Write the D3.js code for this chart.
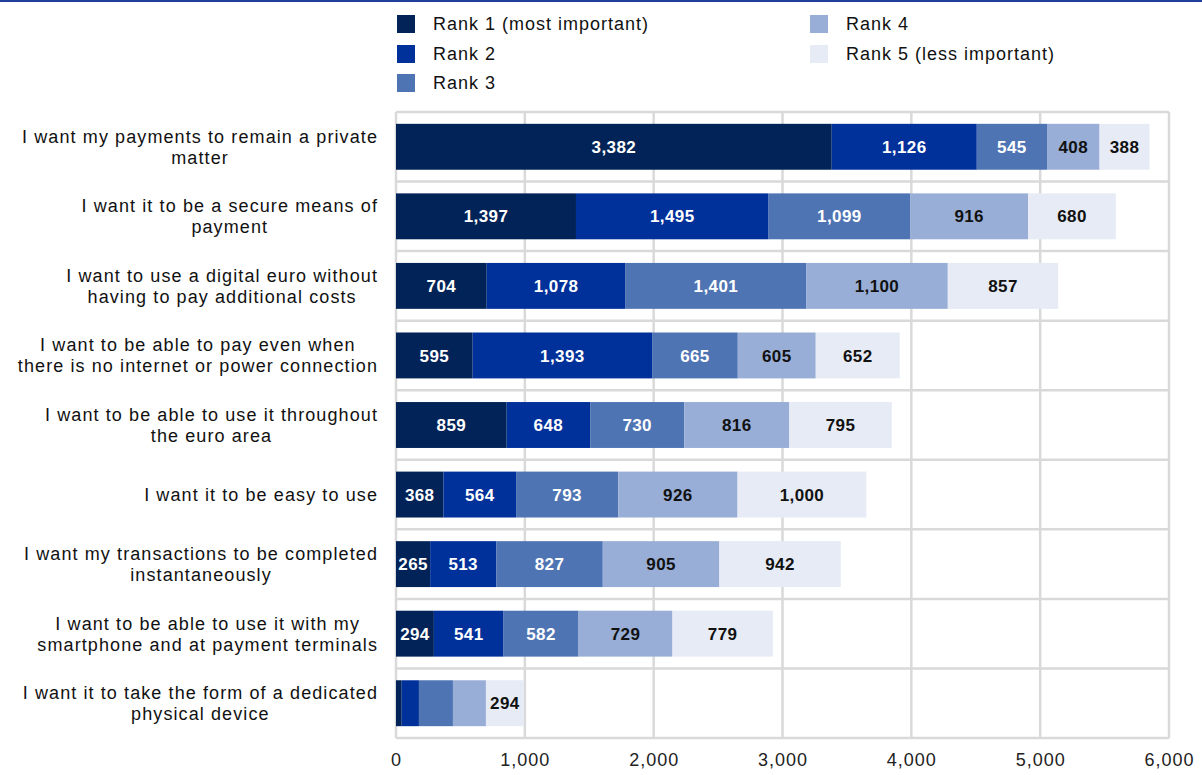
<!DOCTYPE html>
<html>
<head>
<meta charset="utf-8">
<script src="https://cdn.jsdelivr.net/npm/d3@7"></script>
<style>
  html, body { margin: 0; padding: 0; background: #fff; }
  svg { display: block; font-family: "Liberation Sans", Arial, sans-serif; }
</style>
</head>
<body>
<svg id="chart" width="1202" height="775"></svg>
<script>
const categories = [
  "I want my payments to remain a private\nmatter",
  "I want it to be a secure means of\npayment",
  "I want to use a digital euro without\nhaving to pay additional costs",
  "I want to be able to pay even when\nthere is no internet or power connection",
  "I want to be able to use it throughout\nthe euro area",
  "I want it to be easy to use",
  "I want my transactions to be completed\ninstantaneously",
  "I want to be able to use it with my\nsmartphone and at payment terminals",
  "I want it to take the form of a dedicated\nphysical device"
];
const seriesNames = ["Rank 1 (most important)", "Rank 2", "Rank 3", "Rank 4", "Rank 5 (less important)"];
const rank1 = [3382, 1397, 704, 595, 859, 368, 265, 294, 44];
const rank2 = [1126, 1495, 1078, 1393, 648, 564, 513, 541, 134];
const rank3 = [545, 1099, 1401, 665, 730, 793, 827, 582, 264];
const rank4 = [408, 916, 1100, 605, 816, 926, 905, 729, 256];
const rank5 = [388, 680, 857, 652, 795, 1000, 942, 779, 294];
// whether a segment's value label is printed (per category row)
const showLabel = [true, true, true, true, true, true, true, true, false];
const xTicks = [0, 1000, 2000, 3000, 4000, 5000, 6000];
const colors = ["#022357", "#00309a", "#4f74b4", "#98aed6", "#e6ebf5"];
const labelColors = ["#ffffff", "#ffffff", "#ffffff", "#111111", "#111111"];

const svg = d3.select("#chart");
const W = 1202, H = 775;
const plot = { left: 396, right: 1169, top: 112, bottom: 738 };

// top rule
svg.append("rect").attr("x", 0).attr("y", 0).attr("width", W).attr("height", 2).attr("fill", "#1f3f9a");

const x = d3.scaleLinear().domain([0, 6000]).range([plot.left, plot.right]);
const y = d3.scaleBand().domain(d3.range(categories.length)).range([plot.top, plot.bottom]).paddingInner(0).paddingOuter(0);
const barPad = 0.17;

const rows = categories.map((c, i) => ({ i, c, r1: rank1[i], r2: rank2[i], r3: rank3[i], r4: rank4[i], r5: rank5[i] }));
const keys = ["r1", "r2", "r3", "r4", "r5"];
const stacked = d3.stack().keys(keys)(rows);

// grid
const grid = svg.append("g").attr("stroke", "#d9d9d9").attr("stroke-width", 2.5);
grid.selectAll("line.v").data(xTicks).join("line")
  .attr("x1", d => x(d)).attr("x2", d => x(d))
  .attr("y1", plot.top).attr("y2", plot.bottom);
const bounds = d3.range(categories.length + 1).map(k => k < categories.length ? y(k) : plot.bottom);
grid.selectAll("line.h").data(bounds).join("line")
  .attr("x1", plot.left).attr("x2", plot.right)
  .attr("y1", d => d).attr("y2", d => d);

// bars
const bh = y.bandwidth() * (1 - 2 * barPad);
const layers = svg.append("g").selectAll("g").data(stacked).join("g")
  .attr("fill", (d, k) => colors[k]);
layers.selectAll("rect").data(d => d).join("rect")
  .attr("x", d => x(d[0]))
  .attr("y", (d, j) => y(j) + y.bandwidth() * barPad)
  .attr("width", d => x(d[1]) - x(d[0]))
  .attr("height", bh);

// value labels
const lab = svg.append("g").attr("font-size", 17).attr("font-weight", "bold")
  .attr("letter-spacing", "0.4px").attr("text-anchor", "middle");
stacked.forEach((layer, k) => {
  layer.forEach((d, j) => {
    if (!showLabel[j] && k < 4) return;
    lab.append("text")
      .attr("x", (x(d[0]) + x(d[1])) / 2)
      .attr("y", y(j) + y.bandwidth() / 2)
      .attr("dy", "0.36em")
      .attr("fill", labelColors[k])
      .text(d3.format(",")(d[1] - d[0]));
  });
});

// category labels
const catG = svg.append("g").attr("font-size", 18).attr("letter-spacing", "1.1px").attr("fill", "#111");
categories.forEach((c, j) => {
  const lines = c.split("\n");
  const t = catG.append("text").attr("text-anchor", "middle");
  const spans = lines.map(l => t.append("tspan").text(l));
  const widths = spans.map(s => s.node().getComputedTextLength());
  const maxW = d3.max(widths);
  const cx = 378 - maxW / 2;
  const lh = 21;
  const cy = y(j) + y.bandwidth() / 2;
  spans.forEach((s, n) => {
    s.attr("x", cx).attr("y", cy + (n - (lines.length - 1) / 2) * lh).attr("dy", "0.36em");
  });
});

// x axis labels
const axis = d3.axisBottom(x).tickValues(xTicks).tickFormat(d3.format(",")).tickSize(0).tickPadding(0);
const ax = svg.append("g").attr("transform", `translate(0, ${plot.bottom + 15})`).call(axis);
ax.select(".domain").remove();
ax.selectAll("text").attr("font-size", 18).attr("letter-spacing", "1px").attr("fill", "#222")
  .attr("font-family", "'Liberation Sans', Arial, sans-serif").attr("dy", "0.71em");

// legend
const legPos = [[397, 24], [397, 54], [397, 83], [810, 24], [810, 54]];
const leg = svg.append("g").attr("font-size", 18).attr("letter-spacing", "1px").attr("fill", "#111");
seriesNames.forEach((n, k) => {
  const [lx, ly] = legPos[k];
  leg.append("rect").attr("x", lx).attr("y", ly - 9).attr("width", 18).attr("height", 18).attr("fill", colors[k]);
  leg.append("text").attr("x", lx + 36).attr("y", ly).attr("dy", "0.36em").text(n);
});
</script>
</body>
</html>
